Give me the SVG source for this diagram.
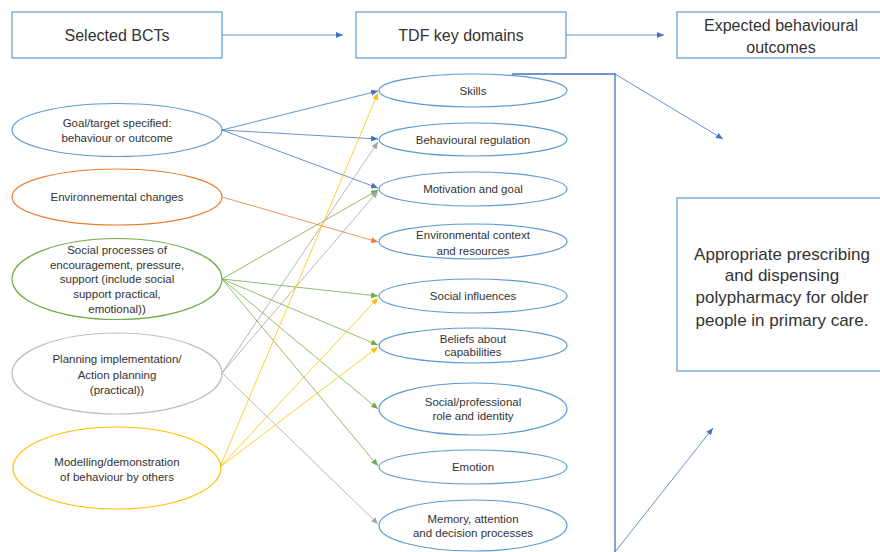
<svg xmlns="http://www.w3.org/2000/svg" width="880" height="552" viewBox="0 0 880 552">
<style>
text{font-family:"Liberation Sans",Arial,sans-serif;fill:#333;text-anchor:middle;dominant-baseline:central}
.hb{fill:#fff;stroke:#5B9BD5;stroke-width:1.2}
.ht{font-size:16px}
.et{font-size:11.5px}
.me{fill:#fff;stroke:#5B9BD5;stroke-width:1.2}
.c{fill:none;stroke-width:0.8}
.b{stroke:#4472C4}.o{stroke:#ED7D31}.g{stroke:#70AD47}.y{stroke:#FFC000}.gr{stroke:#A5A5A5}
</style>
<defs>
<marker id="mb" markerWidth="8" markerHeight="7" refX="7" refY="3" orient="auto" markerUnits="userSpaceOnUse"><path d="M0,0 L7,3 L0,6 z" fill="#4472C4"/></marker>
<marker id="mo" markerWidth="8" markerHeight="7" refX="7" refY="3" orient="auto" markerUnits="userSpaceOnUse"><path d="M0,0 L7,3 L0,6 z" fill="#ED7D31"/></marker>
<marker id="mg" markerWidth="8" markerHeight="7" refX="7" refY="3" orient="auto" markerUnits="userSpaceOnUse"><path d="M0,0 L7,3 L0,6 z" fill="#70AD47"/></marker>
<marker id="my" markerWidth="8" markerHeight="7" refX="7" refY="3" orient="auto" markerUnits="userSpaceOnUse"><path d="M0,0 L7,3 L0,6 z" fill="#FFC000"/></marker>
<marker id="mgr" markerWidth="8" markerHeight="7" refX="7" refY="3" orient="auto" markerUnits="userSpaceOnUse"><path d="M0,0 L7,3 L0,6 z" fill="#A5A5A5"/></marker>
</defs>
<rect width="880" height="552" fill="#fff"/>

<g id="header-bcts"><rect class="hb" x="12" y="12" width="210" height="46"/><text class="ht" x="117" y="35">Selected BCTs</text></g>
<g id="header-tdf"><rect class="hb" x="356" y="12" width="210" height="46"/><text class="ht" x="461" y="35">TDF key domains</text></g>
<g id="header-outcomes"><rect class="hb" x="677" y="12" width="210" height="46"/><text class="ht" x="781" y="25">Expected behavioural</text><text class="ht" x="781" y="47">outcomes</text></g>

<g id="bct-goal"><ellipse cx="117" cy="130" rx="105" ry="26.5" fill="#fff" stroke="#5B9BD5" stroke-width="1.2"/><text class="et" x="117" y="123">Goal/target specified:</text><text class="et" x="117" y="138">behaviour or outcome</text></g>
<g id="bct-env"><ellipse cx="117" cy="197" rx="105" ry="28" fill="#fff" stroke="#ED7D31" stroke-width="1.2"/><text class="et" x="117" y="197">Environnemental changes</text></g>
<g id="bct-social"><ellipse cx="117" cy="279" rx="105" ry="40.5" fill="#fff" stroke="#70AD47" stroke-width="1.2"/><text class="et" x="117" y="250">Social processes of</text><text class="et" x="117" y="264.5">encouragement, pressure,</text><text class="et" x="117" y="279">support (include social</text><text class="et" x="117" y="294">support practical,</text><text class="et" x="117" y="309">emotional))</text></g>
<g id="bct-planning"><ellipse cx="117" cy="373.5" rx="105" ry="40.5" fill="#fff" stroke="#BFBFBF" stroke-width="1.2"/><text class="et" x="117" y="359">Planning implementation/</text><text class="et" x="117" y="375">Action planning</text><text class="et" x="117" y="390">(practical))</text></g>
<g id="bct-modelling"><ellipse cx="117" cy="468" rx="104" ry="41" fill="#fff" stroke="#FFC000" stroke-width="1.2"/><text class="et" x="117" y="462">Modelling/demonstration</text><text class="et" x="117" y="477">of behaviour by others</text></g>

<g id="tdf-skills"><ellipse class="me" cx="473" cy="90.5" rx="94" ry="16.5"/><text class="et" x="473" y="91">Skills</text></g>
<g id="tdf-behreg"><ellipse class="me" cx="473" cy="139.5" rx="94" ry="16.5"/><text class="et" x="473" y="139.5">Behavioural regulation</text></g>
<g id="tdf-motivation"><ellipse class="me" cx="473" cy="189" rx="94" ry="17"/><text class="et" x="473" y="189">Motivation and goal</text></g>
<g id="tdf-envctx"><ellipse class="me" cx="473" cy="241.5" rx="94" ry="17.5"/><text class="et" x="473" y="235">Environmental context</text><text class="et" x="473" y="251">and resources</text></g>
<g id="tdf-socinf"><ellipse class="me" cx="473" cy="296" rx="94" ry="17"/><text class="et" x="473" y="296">Social influences</text></g>
<g id="tdf-beliefs"><ellipse class="me" cx="473" cy="345.5" rx="94" ry="17.5"/><text class="et" x="473" y="339">Beliefs about</text><text class="et" x="473" y="352">capabilities</text></g>
<g id="tdf-role"><ellipse class="me" cx="473" cy="409" rx="94" ry="26"/><text class="et" x="473" y="402">Social/professional</text><text class="et" x="473" y="416">role and identity</text></g>
<g id="tdf-emotion"><ellipse class="me" cx="473" cy="467" rx="94" ry="17"/><text class="et" x="473" y="467">Emotion</text></g>
<g id="tdf-memory"><ellipse class="me" cx="473" cy="525.5" rx="94" ry="25.5"/><text class="et" x="473" y="519">Memory, attention</text><text class="et" x="473" y="533">and decision processes</text></g>

<g id="outcome"><rect x="677" y="198" width="210" height="173" fill="#fff" stroke="#5B9BD5" stroke-width="1.2"/><text x="782" y="254" style="font-size:17px">Appropriate prescribing</text><text x="782" y="275.5" style="font-size:17px">and dispensing</text><text x="782" y="297.5" style="font-size:17px">polypharmacy for older</text><text x="782" y="320" style="font-size:17px">people in primary care.</text></g>

<g id="connectors">
<line class="c b" x1="222" y1="35" x2="343" y2="35" marker-end="url(#mb)"/>
<line class="c b" x1="566" y1="35" x2="664" y2="35" marker-end="url(#mb)"/>

<line class="c b" x1="222" y1="130" x2="378" y2="91" marker-end="url(#mb)"/>
<line class="c b" x1="222" y1="130" x2="378" y2="139" marker-end="url(#mb)"/>
<line class="c b" x1="222" y1="130" x2="378" y2="188" marker-end="url(#mb)"/>

<line class="c o" x1="222" y1="197" x2="378" y2="242" marker-end="url(#mo)"/>

<line class="c g" x1="222" y1="279" x2="378" y2="190" marker-end="url(#mg)"/>
<line class="c g" x1="222" y1="279" x2="378" y2="296" marker-end="url(#mg)"/>
<line class="c g" x1="222" y1="279" x2="378" y2="345" marker-end="url(#mg)"/>
<line class="c g" x1="222" y1="279" x2="378" y2="409" marker-end="url(#mg)"/>
<line class="c g" x1="222" y1="279" x2="378" y2="466" marker-end="url(#mg)"/>

<line class="c gr" x1="222" y1="373" x2="378" y2="142" marker-end="url(#mgr)"/>
<line class="c gr" x1="222" y1="373" x2="378" y2="191" marker-end="url(#mgr)"/>
<line class="c gr" x1="222" y1="373" x2="378" y2="524" marker-end="url(#mgr)"/>

<line class="c y" x1="220" y1="467" x2="378" y2="93" marker-end="url(#my)"/>
<line class="c y" x1="220" y1="467" x2="378" y2="298" marker-end="url(#my)"/>
<line class="c y" x1="220" y1="467" x2="378" y2="347" marker-end="url(#my)"/>

<polyline points="512,74 615,74 615,552" fill="none" stroke="#4472C4" stroke-width="1.3"/>
<line class="c b" x1="615" y1="74" x2="723" y2="139" marker-end="url(#mb)"/>
<line class="c b" x1="615" y1="552" x2="713" y2="428" marker-end="url(#mb)"/>
</g>
</svg>
